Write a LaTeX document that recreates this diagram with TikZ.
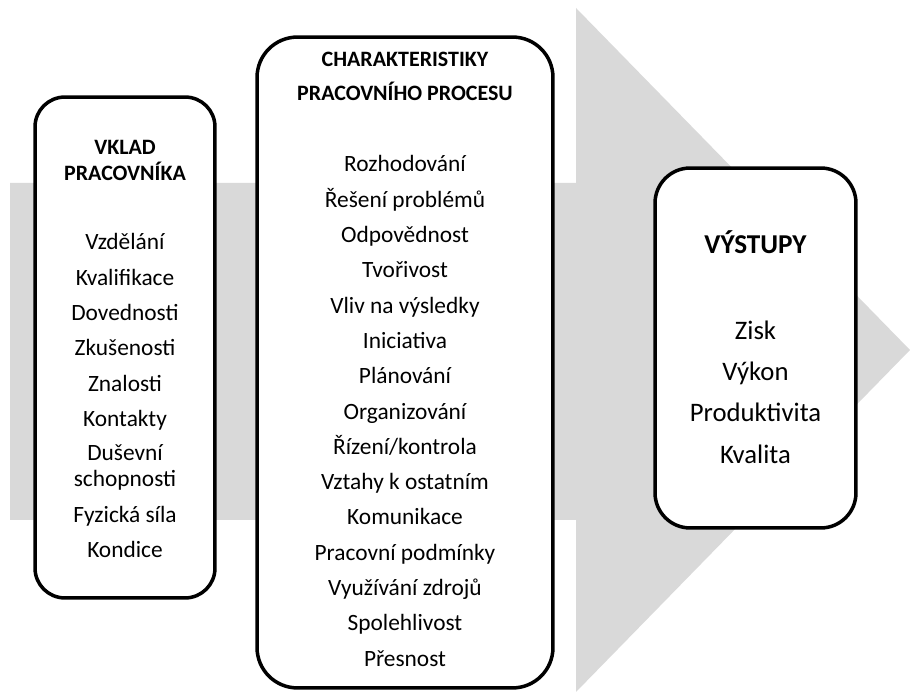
\documentclass[tikz,border=0pt]{standalone}
\usepackage{fontspec}
\setmainfont{Carlito}
\usetikzlibrary{positioning}
\definecolor{flowgray}{RGB}{217,217,217}

\tikzset{
  panel/.style={draw=black,line width=2pt,fill=white,inner sep=0pt},
  item/.style={font=\fontsize{13.3}{16}\selectfont,anchor=base,inner sep=0pt},
  head/.style={font=\bfseries\fontsize{12.5}{15}\selectfont,anchor=base,inner sep=0pt},
  bigitem/.style={font=\fontsize{15.2}{18}\selectfont,anchor=base,inner sep=0pt},
}

\begin{document}
\begin{tikzpicture}[x=0.02cm,y=-0.02cm]
    \useasboundingbox (0,0) rectangle (910,695);
    % the wide grey arrow behind everything
    \fill[flowgray] (10,183) -- (576,183) -- (576,8) -- (910,350)
      -- (576,692) -- (576,520) -- (10,520) -- cycle;
    % three boxes
    \node[panel,rounded corners=17pt,minimum width=3.6cm,minimum height=10.02cm]
      (vklad) at (125,347.5) {};
    \node[panel,rounded corners=23pt,minimum width=5.92cm,minimum height=13.02cm]
      (proces) at (405,362.5) {};
    \node[panel,rounded corners=20pt,minimum width=4.02cm,minimum height=7.2cm]
      (vystupy) at (755.5,348) {};
    % input
    \node[head] (vkladtitle) at (125,155) {VKLAD};
    \node[head] (vkladtitleb) at (125,181) {PRACOVNÍKA};
    \foreach \y/\txt [count=\i] in {250/Vzdělání,285.5/Kvalifikace,321/Dovednosti,
        356/Zkušenosti,391.5/Znalosti,427/Kontakty,461/Duševní,487/schopnosti,
        523/Fyzická síla,558/Kondice}
      \node[item] (vk\i) at (125,\y) {\txt};
    % process
    \node[head] (procestitle) at (405,67) {CHARAKTERISTIKY};
    \node[head] (procestitleb) at (405,101) {PRACOVNÍHO PROCESU};
    \foreach \txt [count=\i] in {Rozhodování,Řešení problémů,Odpovědnost,
        Tvořivost,Vliv na výsledky,Iniciativa,Plánování,Organizování,
        Řízení/kontrola,Vztahy k ostatním,Komunikace,Pracovní podmínky,
        Využívání zdrojů,Spolehlivost,Přesnost}
      \node[item] (pp\i) at (405,{172+35.3*(\i-1)}) {\txt};
    % output
    \node[head,font=\bfseries\fontsize{15.5}{18}\selectfont] (vystupytitle)
      at (755.5,254) {VÝSTUPY};
    \foreach \y/\txt [count=\i] in {340/Zisk,381/Výkon,422/Produktivita,464/Kvalita}
      \node[bigitem] (vy\i) at (755.5,\y) {\txt};
\end{tikzpicture}
\end{document}
